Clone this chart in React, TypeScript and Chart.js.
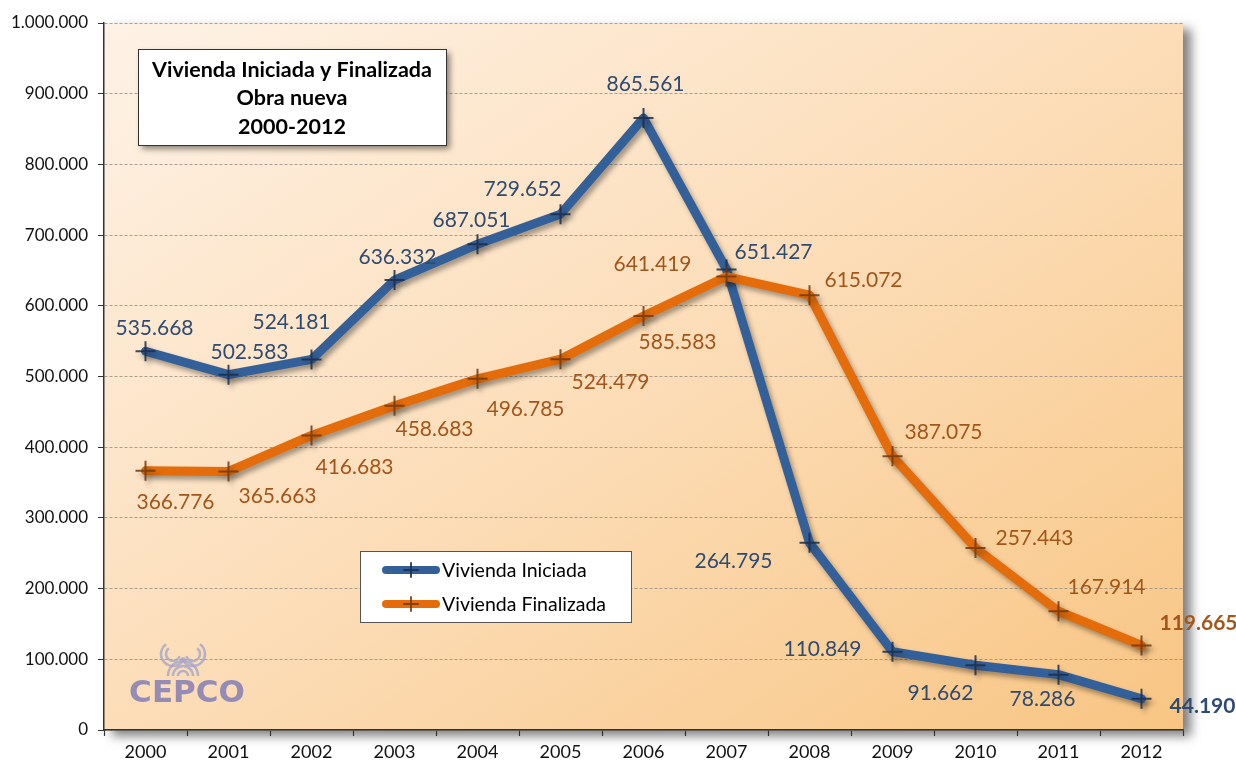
import React, { useEffect, useRef } from "react";
import { Chart, registerables } from "chart.js";

Chart.register(...registerables);

const years = ["2000", "2001", "2002", "2003", "2004", "2005", "2006", "2007", "2008", "2009", "2010", "2011", "2012"];
const iniciada = [535668, 502583, 524181, 636332, 687051, 729652, 865561, 651427, 264795, 110849, 91662, 78286, 44190];
const finalizada = [366776, 365663, 416683, 458683, 496785, 524479, 585583, 641419, 615072, 387075, 257443, 167914, 119665];
const titleLines = ["Vivienda Iniciada y Finalizada", "Obra nueva", "2000-2012"];
const seriesNames = ["Vivienda Iniciada", "Vivienda Finalizada"];

// label offsets from each point (style/placement, not data)
const iniOffsets: [number, number][] = [
  [9, -23], [21, -22], [-20, -37], [3, -23], [-6, -24], [-38, -25], [2, -34],
  [47, -17], [-76, 18], [-70, -2], [-35, 28], [-16, 25], [61, 7],
];
const finOffsets: [number, number][] = [
  [30, 32], [49, 25], [43, 32], [40, 24], [48, 30], [50, 23], [34, 26],
  [-74, -12], [54, -15], [51, -24], [59, -10], [48, -24], [57, -22],
];

const BLUE = "#34609A";
const ORANGE = "#E46C0A";
const BLUE_MARK = "rgba(28,45,72,0.85)";
const ORANGE_MARK = "rgba(110,58,18,0.85)";
const BLUE_LABEL = "#2F4B72";
const ORANGE_LABEL = "#A2561A";
const FONT = "Lato, 'Open Sans', sans-serif";

function fmt(v: number): string {
  const s = Math.round(v).toString();
  return s.replace(/\B(?=(\d{3})+(?!\d))/g, ".");
}

function drawCross(ctx: CanvasRenderingContext2D, x: number, y: number, r: number, color: string) {
  ctx.save();
  ctx.strokeStyle = color;
  ctx.lineWidth = 2;
  ctx.beginPath();
  ctx.moveTo(x - r, y);
  ctx.lineTo(x + r, y);
  ctx.moveTo(x, y - r);
  ctx.lineTo(x, y + r);
  ctx.stroke();
  ctx.restore();
}

const bgPlugin = {
  id: "bgPlugin",
  beforeDraw(chart: any) {
    const { ctx, chartArea } = chart;
    const { left, top, right, bottom } = chartArea;
    const W = right - left;
    const H = bottom - top;
    const k = (2 * W * H) / (H * H + W * W);
    const g = ctx.createLinearGradient(left, top, left + k * H, top + k * W);
    g.addColorStop(0, "#FEF2E6");
    g.addColorStop(0.5, "#FCDDB8");
    g.addColorStop(1, "#F8C583");
    ctx.save();
    ctx.shadowColor = "rgba(0,0,0,0.5)";
    ctx.shadowBlur = 10;
    ctx.shadowOffsetX = 8;
    ctx.shadowOffsetY = 6;
    ctx.fillStyle = g;
    ctx.fillRect(left, top, W, H);
    ctx.restore();
  },
  beforeDatasetsDraw(chart: any) {
    // CEPCO logo (watermark-like)
    const { ctx } = chart;
    ctx.save();
    ctx.globalAlpha = 0.8;
    ctx.strokeStyle = "#A4A6C8";
    ctx.lineWidth = 2.5;
    const cx = 183;
    const cy = 676;
    for (const r of [5, 10, 15]) {
      ctx.beginPath();
      ctx.arc(cx, cy, r, Math.PI, 2 * Math.PI);
      ctx.stroke();
    }
    for (const r of [7, 12]) {
      ctx.beginPath();
      ctx.arc(cx - 10, cy - 22, r, 0.1 * Math.PI, 1.3 * Math.PI);
      ctx.stroke();
      ctx.beginPath();
      ctx.arc(cx + 10, cy - 22, r, -0.3 * Math.PI, 0.9 * Math.PI);
      ctx.stroke();
    }
    ctx.fillStyle = "#7A78B4";
    ctx.font = "bold 31px 'DejaVu Sans', sans-serif";
    ctx.textAlign = "center";
    ctx.textBaseline = "middle";
    ctx.fillText("CEPCO", 187, 694);
    ctx.restore();
  },
  beforeDatasetDraw(chart: any) {
    const ctx = chart.ctx;
    ctx.save();
    ctx.shadowColor = "rgba(0,0,0,0.35)";
    ctx.shadowBlur = 5;
    ctx.shadowOffsetX = 3;
    ctx.shadowOffsetY = 4;
  },
  afterDatasetDraw(chart: any) {
    chart.ctx.restore();
  },
  afterDatasetsDraw(chart: any) {
    const { ctx } = chart;
    const sets = [
      { idx: 1, values: iniciada, offs: iniOffsets, color: BLUE_LABEL },
      { idx: 0, values: finalizada, offs: finOffsets, color: ORANGE_LABEL },
    ];
    ctx.save();
    ctx.textAlign = "center";
    ctx.textBaseline = "middle";
    for (const s of sets) {
      const meta = chart.getDatasetMeta(s.idx);
      meta.data.forEach((pt: any, i: number) => {
        const last = i === s.values.length - 1;
        ctx.font = (last ? "bold 21px " : "21px ") + FONT;
        ctx.fillStyle = s.color;
        ctx.fillText(fmt(s.values[i]), pt.x + s.offs[i][0], pt.y + s.offs[i][1]);
      });
    }
    ctx.restore();

    // Title box
    ctx.save();
    ctx.shadowColor = "rgba(0,0,0,0.45)";
    ctx.shadowBlur = 6;
    ctx.shadowOffsetX = 4;
    ctx.shadowOffsetY = 4;
    ctx.fillStyle = "#FFFFFF";
    ctx.fillRect(138, 49, 308, 96);
    ctx.restore();
    ctx.save();
    ctx.strokeStyle = "#333333";
    ctx.lineWidth = 1;
    ctx.strokeRect(138.5, 49.5, 308, 96);
    ctx.fillStyle = "#000000";
    ctx.font = "bold 21.5px " + FONT;
    ctx.textAlign = "center";
    ctx.textBaseline = "middle";
    titleLines.forEach((t, i) => ctx.fillText(t, 292, 70 + i * 28.5));
    ctx.restore();

    // Legend
    ctx.save();
    ctx.fillStyle = "#FFFFFF";
    ctx.fillRect(360, 551, 271, 71);
    ctx.strokeStyle = "#555555";
    ctx.lineWidth = 1;
    ctx.strokeRect(360.5, 551.5, 271, 71);
    const rows = [
      { y: 570, color: BLUE, mark: BLUE_MARK, name: seriesNames[0] },
      { y: 604, color: ORANGE, mark: ORANGE_MARK, name: seriesNames[1] },
    ];
    for (const r of rows) {
      ctx.strokeStyle = r.color;
      ctx.lineWidth = 8;
      ctx.lineCap = "round";
      ctx.beginPath();
      ctx.moveTo(386, r.y);
      ctx.lineTo(436, r.y);
      ctx.stroke();
      drawCross(ctx, 411, r.y, 7, r.mark);
      ctx.fillStyle = "#000000";
      ctx.font = "19.5px " + FONT;
      ctx.textAlign = "left";
      ctx.textBaseline = "middle";
      ctx.fillText(r.name, 442, r.y + 1);
    }
    ctx.restore();
  },
};

export default function App() {
  const ref = useRef<HTMLCanvasElement>(null);
  useEffect(() => {
    document.body.style.margin = "0";
    const chart = new Chart(ref.current as HTMLCanvasElement, {
      type: "line",
      data: {
        labels: years,
        datasets: [
          {
            label: seriesNames[1],
            data: finalizada,
            borderColor: ORANGE,
            borderWidth: 9,
            borderJoinStyle: "round",
            borderCapStyle: "round",
            pointStyle: "cross",
            pointRadius: 10,
            pointBorderWidth: 2,
            pointBorderColor: ORANGE_MARK,
            pointBackgroundColor: ORANGE_MARK,
            tension: 0,
            fill: false,
          },
          {
            label: seriesNames[0],
            data: iniciada,
            borderColor: BLUE,
            borderWidth: 9,
            borderJoinStyle: "round",
            borderCapStyle: "round",
            pointStyle: "cross",
            pointRadius: 10,
            pointBorderWidth: 2,
            pointBorderColor: BLUE_MARK,
            pointBackgroundColor: BLUE_MARK,
            tension: 0,
            fill: false,
          },
        ],
      },
      options: {
        responsive: false,
        animation: false,
        layout: { padding: { top: 23, right: 53, left: 0, bottom: 0 } },
        plugins: {
          legend: { display: false },
          tooltip: { enabled: false },
          title: { display: false },
        },
        scales: {
          x: {
            offset: true,
            grid: {
              offset: true,
              drawOnChartArea: false,
              drawTicks: true,
              tickLength: 6,
              tickColor: "#333333",
              tickWidth: 1.2,
            },
            border: { color: "#333333", width: 1.5 },
            ticks: { color: "#111111", font: { family: FONT, size: 18 }, padding: 5, maxRotation: 0, autoSkip: false },
            afterFit: (s: any) => { s.height = 37; },
          },
          y: {
            min: 0,
            max: 1000000,
            ticks: {
              stepSize: 100000,
              color: "#111111",
              font: { family: FONT, size: 17 },
              padding: 10,
              callback: (v: any) => fmt(Number(v)),
            },
            grid: {
              color: "rgba(150,140,130,0.8)",
              lineWidth: 1,
              drawTicks: true,
              tickLength: 6,
              tickColor: "#333333",
              tickBorderDash: [],
            },
            border: { color: "#333333", width: 1.5, dash: [] },
            afterFit: (s: any) => { s.width = 104; },
          },
        },
      },
      plugins: [bgPlugin],
    } as any);
    (chart.options.scales as any).y.grid.borderDash = [3, 2];
    (chart.options.scales as any).y.border.dash = [3, 2];
    chart.update();
    return () => chart.destroy();
  }, []);
  return (
    <div style={{ position: "fixed", left: 0, top: 0, width: 1236, height: 767 }}>
      <canvas ref={ref} width={1236} height={767} />
    </div>
  );
}
